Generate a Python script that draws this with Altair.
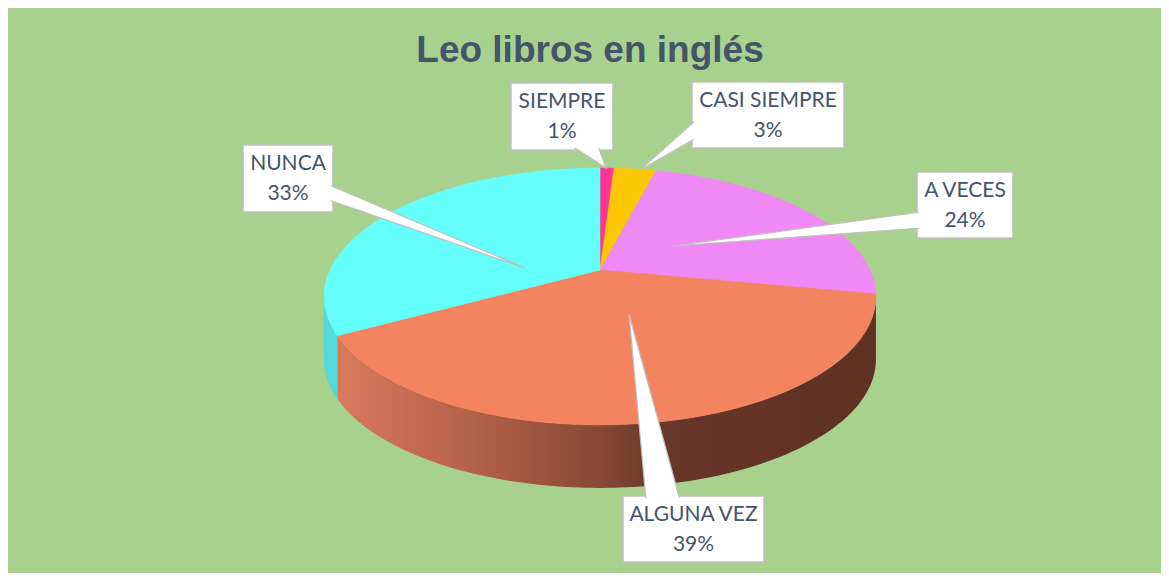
import altair as alt
import numpy as np
import pandas as pd

# ---------------- data ----------------
categories = ["SIEMPRE", "CASI SIEMPRE", "A VECES", "ALGUNA VEZ", "NUNCA"]
percent = [1, 3, 24, 39, 33]
top_colors = ["#fd3596", "#fcc600", "#f088f5", "#f4835f", "#64fefb"]
side_colors = ["#c42a76", "#c49a00", "#bb66c0", "#a8573e", "#55d8d8"]
title_text = "Leo libros en inglés"

# ---------------- layout (page pixel space) ----------------
W, H = 1153, 565
OX, OY = 8, 8
CX, CY, RX, RY, K, DEPTH = 600, 270, 270, 123, 0.206, 63

box_x0 = [511, 692, 917, 623, 243]
box_x1 = [613, 844, 1013, 764, 333]
box_y0 = [83, 82, 172, 496, 145]
box_y1 = [150, 148, 238, 562, 212]
ptr_a = [(572, 150), (692, 120), (917, 212), (646, 496), (333, 185)]
ptr_b = [(598, 150), (692, 138), (917, 228), (680, 496), (333, 200)]
ptr_tip = [(606, 168), (640, 170), (673, 246), (629, 314), (525, 268)]


def rim(theta_deg):
    t = np.radians(theta_deg)
    den = 1 + K * np.cos(t)
    return CX + RX * np.sin(t) / den, CY - RY * np.cos(t) / den


total = sum(percent)
ends = np.cumsum(percent) / total * 360.0
starts = np.concatenate([[0.0], ends[:-1]])

# top faces
top_rows = []
for c, s, e in zip(categories, starts, ends):
    n = max(2, int(np.ceil(e - s)) + 1)
    th = np.linspace(s, e, n)
    xs, ys = rim(th)
    top_rows.append(dict(cat=c, i=0, x=CX, y=CY))
    for j, (x, y) in enumerate(zip(xs, ys)):
        top_rows.append(dict(cat=c, i=j + 1, x=float(x), y=float(y)))
top_df = pd.DataFrame(top_rows)

# side walls (visible front half between silhouette extremes)
th_right = np.degrees(np.arccos(-K))
th_left = 360 - th_right
side_layers = []
for c, s, e, sc in zip(categories, starts, ends, side_colors):
    lo, hi = max(s, th_right), min(e, th_left)
    if lo >= hi:
        continue
    n = max(2, int(np.ceil(hi - lo)) + 1)
    th = np.linspace(lo, hi, n)
    xs, ys = rim(th)
    pts = list(zip(xs, ys)) + list(zip(xs[::-1], ys[::-1] + DEPTH))
    df = pd.DataFrame([dict(cat=c, i=j, x=float(x), y=float(y)) for j, (x, y) in enumerate(pts)])
    if c == "ALGUNA VEZ":
        fill = alt.Gradient(
            gradient="linear", x1=0, x2=1, y1=0, y2=0,
            stops=[
                alt.GradientStop(color="#d8795c", offset=0),
                alt.GradientStop(color="#b5624a", offset=0.24),
                alt.GradientStop(color="#874834", offset=0.49),
                alt.GradientStop(color="#68362a", offset=0.6),
                alt.GradientStop(color="#5e3121", offset=1),
            ],
        )
        mk = dict(interpolate="linear-closed", fill=fill, strokeWidth=0)
    else:
        mk = dict(interpolate="linear-closed", fill=sc, stroke=sc, strokeWidth=0.5)
    side_layers.append((df, mk))

xs_scale = alt.Scale(domain=[OX, OX + W], nice=False, zero=False)
ys_scale = alt.Scale(domain=[OY, OY + H], nice=False, zero=False, reverse=True)


def XY(df_x="x", df_y="y"):
    return dict(
        x=alt.X(f"{df_x}:Q", scale=xs_scale, axis=None),
        y=alt.Y(f"{df_y}:Q", scale=ys_scale, axis=None),
    )


layers = []
for df, mk in side_layers:
    layers.append(
        alt.Chart(df).mark_line(**mk).encode(order=alt.Order("i:Q"), **XY())
    )

layers.append(
    alt.Chart(top_df)
    .mark_line(interpolate="linear-closed", strokeWidth=0.5)
    .encode(
        fill=alt.Fill("cat:N", scale=alt.Scale(domain=categories, range=top_colors), legend=None),
        stroke=alt.Stroke("cat:N", scale=alt.Scale(domain=categories, range=top_colors), legend=None),
        detail="cat:N",
        order=alt.Order("i:Q"),
        **XY(),
    )
)

# callout boxes
box_df = pd.DataFrame(dict(cat=categories, x0=box_x0, x1=box_x1, y0=box_y0, y1=box_y1))
box_df["ix0"] = box_df.x0 + 2
box_df["ix1"] = box_df.x1 - 2
box_df["iy0"] = box_df.y0 + 2
box_df["iy1"] = box_df.y1 - 2

layers.append(
    alt.Chart(box_df)
    .mark_rect(fill="white", stroke="#bfbfbf", strokeWidth=1.5)
    .encode(
        x=alt.X("x0:Q", scale=xs_scale, axis=None),
        x2="x1:Q",
        y=alt.Y("y0:Q", scale=ys_scale, axis=None),
        y2="y1:Q",
    )
)

ptr_rows = []
for c, a, b, t, x0, x1, y0, y1 in zip(categories, ptr_a, ptr_b, ptr_tip, box_x0, box_x1, box_y0, box_y1):
    def inside(p):
        return (min(max(p[0], x0 + 4), x1 - 4), min(max(p[1], y0 + 4), y1 - 4))
    for j, p in enumerate([inside(a), t, inside(b)]):
        ptr_rows.append(dict(cat=c, i=j, x=p[0], y=p[1]))
ptr_df = pd.DataFrame(ptr_rows)

layers.append(
    alt.Chart(ptr_df)
    .mark_line(interpolate="linear-closed", fill="white", stroke="#bfbfbf", strokeWidth=1.2)
    .encode(detail="cat:N", order=alt.Order("i:Q"), **XY())
)

layers.append(
    alt.Chart(box_df)
    .mark_rect(fill="white", strokeWidth=0)
    .encode(
        x=alt.X("ix0:Q", scale=xs_scale, axis=None),
        x2="ix1:Q",
        y=alt.Y("iy0:Q", scale=ys_scale, axis=None),
        y2="iy1:Q",
    )
)

# label texts
txt_rows = []
for c, p, x0, x1, y0, y1 in zip(categories, percent, box_x0, box_x1, box_y0, box_y1):
    cx = (x0 + x1) / 2
    cy = (y0 + y1) / 2
    txt_rows.append(dict(x=cx, y=cy - 14.5, t=c))
    txt_rows.append(dict(x=cx, y=cy + 15.5, t=f"{p}%"))
txt_df = pd.DataFrame(txt_rows)

layers.append(
    alt.Chart(txt_df)
    .mark_text(font="Lato", fontSize=21, color="#44546a", align="center", baseline="middle")
    .encode(text="t:N", **XY())
)

title_df = pd.DataFrame([dict(x=590, y=62, t=title_text)])
layers.append(
    alt.Chart(title_df)
    .mark_text(font="Liberation Sans", fontSize=37, fontWeight="bold", color="#44546a",
               align="center", baseline="alphabetic")
    .encode(text="t:N", **XY())
)

chart = (
    alt.layer(*layers)
    .properties(width=W, height=H, background="#a9d18e", padding=0,
                autosize=alt.AutoSizeParams(type="none"))
    .configure_view(stroke=None)
)

chart.save("out.html", embed_options={"renderer": "svg", "actions": False})
